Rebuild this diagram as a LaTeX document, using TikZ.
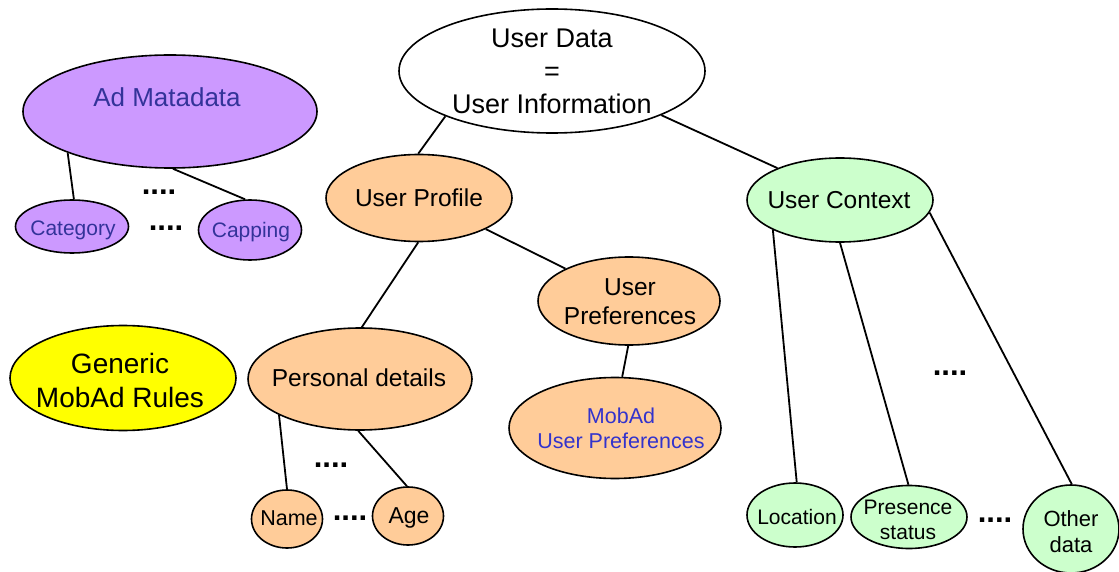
\documentclass[tikz,border=0pt]{standalone}
\usepackage{fontspec}
\setmainfont{Liberation Sans}
\usetikzlibrary{shapes.geometric}
\definecolor{cpurple}{HTML}{CC99FF}
\definecolor{cpeach}{HTML}{FFCC99}
\definecolor{cgreen}{HTML}{CCFFCC}
\definecolor{cyellow}{HTML}{FFFF00}
\definecolor{cnavy}{HTML}{333399}
\definecolor{cblue}{HTML}{3333CC}
\tikzset{
  ell/.style={ellipse, draw=black, line width=1.6pt, inner sep=0pt},
  conn/.style={line width=1.8pt},
  lbl/.style={inner sep=0pt, align=center},
  dots/.style={inner sep=0pt, font={\fontsize{31}{31}\selectfont\bfseries}},
}
\begin{document}
\begin{tikzpicture}[x=1pt,y=-1pt]
\useasboundingbox (0,0) rectangle (1119,572);
% ellipses
\node[ell, fill=white, minimum width=306, minimum height=124] (ud) at (552,71) {};
\node[ell, fill=cpurple, minimum width=294, minimum height=113] (adm) at (170,111.5) {};
\node[ell, fill=cpurple, minimum width=113, minimum height=53] (cat) at (72,226.5) {};
\node[ell, fill=cpurple, minimum width=103, minimum height=60] (cap) at (250,230) {};
\node[ell, fill=cpeach, minimum width=186, minimum height=87] (up) at (419,198) {};
\node[ell, fill=cgreen, minimum width=186, minimum height=84] (uc) at (840,200) {};
\node[ell, fill=cpeach, minimum width=182, minimum height=88] (upr) at (629,301) {};
\node[ell, fill=cpeach, minimum width=224, minimum height=102] (pd) at (360,379) {};
\node[ell, fill=cpeach, minimum width=212, minimum height=101] (mup) at (615,428) {};
\node[ell, fill=cpeach, minimum width=71, minimum height=58] (nm) at (287,519) {};
\node[ell, fill=cpeach, minimum width=71, minimum height=58] (age) at (408,516) {};
\node[ell, fill=cgreen, minimum width=96, minimum height=64] (loc) at (795,515) {};
\node[ell, fill=cgreen, minimum width=116, minimum height=63] (pres) at (909,517) {};
\node[ell, fill=cgreen, minimum width=96, minimum height=88] (oth) at (1071,529) {};
\node[ell, fill=cyellow, minimum width=226, minimum height=105] (gen) at (123,378) {};
% labels
\node[lbl, font={\fontsize{27}{33}\selectfont}] (tud) at (552,71) {User Data\\=\\User Information};
\node[lbl, text=cnavy, font={\fontsize{26}{30}\selectfont}] (tadm) at (167,97) {Ad Matadata};
\node[lbl, text=cnavy, font={\fontsize{21}{25}\selectfont}] (tcat) at (73,230) {Category};
\node[lbl, text=cnavy, font={\fontsize{21}{25}\selectfont}] (tcap) at (251,232) {Capping};
\node[lbl, font={\fontsize{24.5}{29}\selectfont}] (tup) at (419,198) {User Profile};
\node[lbl, font={\fontsize{24.5}{29}\selectfont}] (tuc) at (839,200) {User Context};
\node[lbl, font={\fontsize{24.5}{29}\selectfont}] (tupr) at (630,302) {User\\Preferences};
\node[lbl, font={\fontsize{24.5}{29}\selectfont}] (tpd) at (359,378) {Personal details};
\node[lbl, text=cblue, font={\fontsize{21.5}{25}\selectfont}] (tmup) at (621,428) {MobAd\\User Preferences};
\node[lbl, font={\fontsize{21.5}{25}\selectfont}] (tnm) at (289,518) {Name};
\node[lbl, font={\fontsize{23}{27}\selectfont}] (tage) at (409,518) {Age};
\node[lbl, font={\fontsize{21}{25}\selectfont}] (tloc) at (797,517) {Location};
\node[lbl, font={\fontsize{21}{24.5}\selectfont}] (tpres) at (908,520) {Presence\\status};
\node[lbl, font={\fontsize{22}{26}\selectfont}] (toth) at (1071,532) {Other\\data};
\node[lbl, font={\fontsize{28}{34}\selectfont}] (tgen) at (120,380) {Generic\\MobAd Rules};
% dots
\node[dots] (d1) at (159,192) {....};
\node[dots] (d2) at (166,228) {....};
\node[dots] (d3) at (331,465) {....};
\node[dots] (d4) at (350,518) {....};
\node[dots] (d5) at (950,373) {....};
\node[dots] (d6) at (995,520) {....};
% connectors
\draw[conn] (ud.203) -- (up.91);
\draw[conn] (ud.338) -- (uc.153);
\draw[conn] (up.335) -- (upr.153);
\draw[conn] (up.269) -- (pd.88);
\draw[conn] (pd.204) -- (nm.90);
\draw[conn] (pd.268) -- (age.92);
\draw[conn] (upr.269) -- (mup.82);
\draw[conn] (adm.202) -- (cat.86);
\draw[conn] (adm.273) -- (cap.99);
\draw[conn] (uc.204) -- (loc.87);
\draw[conn] (uc.270) -- (pres.91);
\draw[conn] (uc.352) -- (oth.89);
\end{tikzpicture}
\end{document}
